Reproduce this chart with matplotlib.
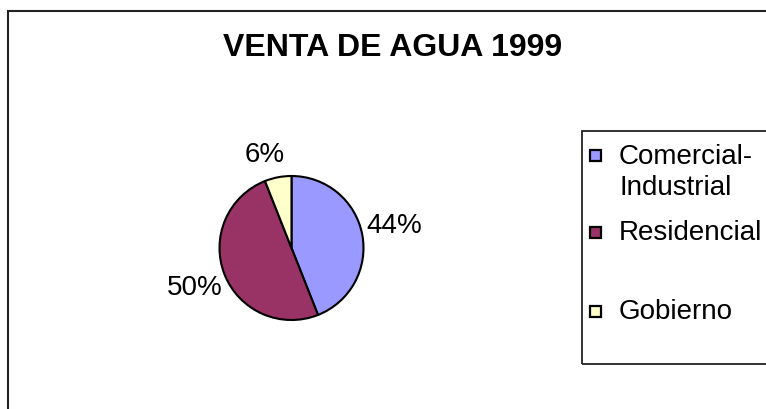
import matplotlib.pyplot as plt
from matplotlib.patches import Rectangle

# data
categories = ["Comercial-\nIndustrial", "Residencial", "Gobierno"]
values = [44, 50, 6]
colours = ["#9999FF", "#993366", "#FFFFCC"]
title = "VENTA DE AGUA 1999"

plt.rcParams['font.family'] = ['Liberation Sans', 'DejaVu Sans']

W, H = 766, 410
fig = plt.figure(figsize=(W / 100, H / 100), dpi=100)

def fx(x):
    return x / W

def fy(y):
    return 1 - y / H

# outer frame (right and bottom run off the picture)
fig.patches.append(Rectangle((fx(7.5), fy(420)), fx(780), 1 - fy(420) - (1 - fy(11.5)),
                             transform=fig.transFigure, fill=False,
                             edgecolor="#222222", lw=1.5))

fig.text(fx(393), fy(48), title, fontsize=23, fontweight="bold",
         ha="center", va="center")

# pie, centre (291.5, 249) radius 72 px
cx, cy, r = 291.5, 249, 72
ax = fig.add_axes([fx(cx - r), fy(cy + r), fx(2 * r), (2 * r) / H])
wedges, texts, autotexts = ax.pie(values, colors=colours, startangle=90, counterclock=False,
                                  autopct="%1.0f%%", pctdistance=1.43,
                                  wedgeprops=dict(edgecolor="black", linewidth=1.5),
                                  textprops=dict(fontsize=20))
ax.set_xlim(-1, 1)
ax.set_ylim(-1, 1)
ax.set_aspect("equal")
ax.axis("off")

# nudge labels the way the original sits them
offsets = [(0.02, 0.05), (-0.02, -0.02), (-0.1, -0.1)]
for t, (dx, dy) in zip(autotexts, offsets):
    x0, y0 = t.get_position()
    t.set_position((x0 + dx, y0 + dy))

# legend box
fig.patches.append(Rectangle((fx(582), fy(365)), fx(200), (365 - 132) / H,
                             transform=fig.transFigure, fill=False,
                             edgecolor="#222222", lw=1.3))
square_y = [156, 233.5, 312.5]
text_y = [172.5, 233, 312]
for lab, col, sy, ty in zip(categories, colours, square_y, text_y):
    fig.patches.append(Rectangle((fx(590), fy(sy + 5.5)), fx(11), 11 / H,
                                 transform=fig.transFigure, facecolor=col,
                                 edgecolor="black", lw=1.6))
    fig.text(fx(619), fy(ty), lab, fontsize=20, ha="left", va="center",
             linespacing=1.22)

plt.savefig("out.png", dpi=100)
